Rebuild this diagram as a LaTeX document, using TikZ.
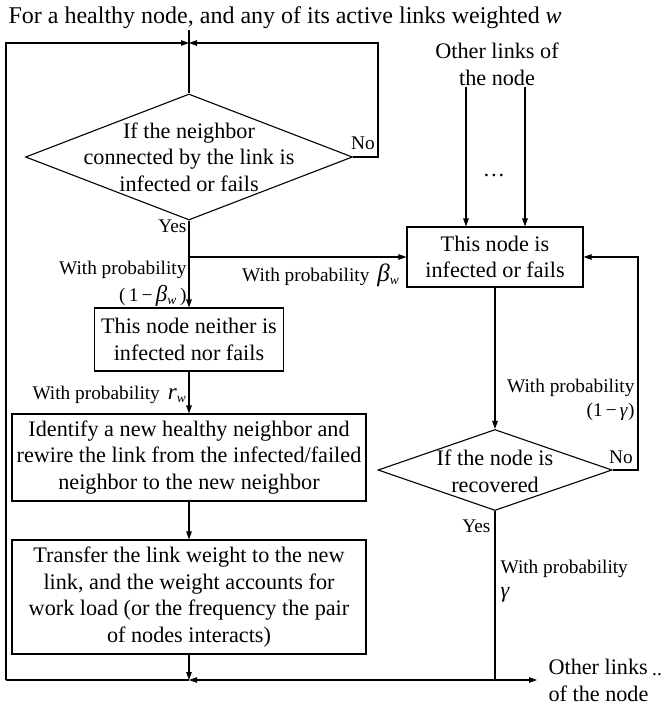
\documentclass[tikz,border=0pt]{standalone}
\usepackage{fontspec}
\setmainfont{Liberation Serif}
\usetikzlibrary{shapes.geometric,arrows.meta}
\begin{document}
\begin{tikzpicture}[x=1pt,y=-1pt,
  line width=1.1pt,
  arr/.style={-{Triangle[length=8pt,width=5.5pt]}},
  box/.style={draw,inner sep=0pt,align=center,font=\fontsize{22.2}{26.6}\selectfont},
  dia/.style={draw,shape=diamond,inner sep=0pt},
  txt/.style={inner sep=0pt,align=center,font=\fontsize{22.2}{26.6}\selectfont},
  lbl/.style={inner sep=0pt,font=\fontsize{19.3}{24}\selectfont},
]
\useasboundingbox (0,0) rectangle (663,707);
% title
\node[inner sep=0pt,anchor=base west,font=\fontsize{24}{28}\selectfont] (title) at (8,23) {For a healthy node, and any of its active links weighted \textit{w}};
% shapes
\node[dia,minimum width=327pt,minimum height=126pt] (d1) at (189,157) {};
\node[txt] (d1t) at (189,157) {If the neighbor\\connected by the link is\\infected or fails};
\node[box,minimum width=189pt,minimum height=63pt] (b2) at (189,339.5) {This node neither is\\infected nor fails};
\node[box,minimum width=354pt,minimum height=87pt] (b3) at (189,457.5) {Identify a new healthy neighbor and\\rewire the link from the infected/failed\\neighbor to the new neighbor};
\node[box,minimum width=354pt,minimum height=114pt] (b4) at (189,597) {Transfer the link weight to the new\\link, and the weight accounts for\\work load (or the frequency the pair\\of nodes interacts)};
\node[box,minimum width=176pt,minimum height=60pt] (r1) at (495,257) {This node is\\infected or fails};
\node[dia,minimum width=234pt,minimum height=81pt] (d2) at (495,470) {};
\node[txt] (d2t) at (495,471) {If the node is\\recovered};
\node[txt] (other) at (497,64) {Other links of\\the node};
\node[txt] (dots) at (494,175) {\dots};
% coordinates
\coordinate (topj) at (189,43);
\coordinate (stub) at (189,30);
\coordinate (tl) at (6,43);
\coordinate (bl) at (6,680);
\coordinate (botj) at (189,680);
\coordinate (rl1) at (378,43);
\coordinate (rl1b) at (378,157);
\coordinate (br) at (189,257);
\coordinate (rl2t) at (638,257);
\coordinate (rl2b) at (638,470);
\coordinate (ybot) at (495,680);
\coordinate (outend) at (537,680);
\coordinate (o1s) at (466,87);
\coordinate (o2s) at (525,87);
% connectors
\draw (stub) -- (d1.north);
\draw[arr] (d1.east) -- (rl1b) -- (rl1) -- (topj);
\draw[arr] (bl) -- (tl) -- (topj);
\draw[arr] (d1.south) -- (b2.north);
\draw[arr] (br) -- (r1.west);
\draw[arr] (b2.south) -- (b3.north);
\draw[arr] (b3.south) -- (b4.north);
\draw[arr] (b4.south) -- (botj);
\draw (botj) -- (bl);
\draw[arr] (ybot) -- (botj);
\draw[arr] (d2.south) -- (ybot) -- (outend);
\draw[arr] (o1s) -- (o1s |- r1.north);
\draw[arr] (o2s) -- (o2s |- r1.north);
\draw[arr] (r1.south) -- (d2.north);
\draw[arr] (d2.east) -- (rl2b) -- (rl2t) -- (r1.east);
% labels
\node[lbl,anchor=east] (yes1) at (187,226) {Yes};
\node[lbl] (no1) at (363,143) {No};
\node[lbl,anchor=east] (p1a) at (187,270) {With probability};
\node[lbl,anchor=east] (p1b) at (187,296) {(\,1\,−\,{\fontsize{23}{24}\selectfont\textit{β}}\textsubscript{\textit{w}}\,)};
\node[lbl,anchor=east] (p2) at (400,275) {With probability \,{\fontsize{25}{24}\selectfont\textit{β}}\textsubscript{\textit{w}}};
\node[lbl,anchor=east] (p3) at (187,395) {With probability \,{\fontsize{23}{24}\selectfont\textit{r}}\textsubscript{\textit{w}}};
\node[lbl,anchor=east,align=right] (p4) at (635,400) {With probability\\(1\,−\,\textit{γ})};
\node[lbl] (no2) at (621,457) {No};
\node[lbl,anchor=east] (yes2) at (491,526) {Yes};
\node[lbl,anchor=west,align=left] (p5) at (500,581) {With probability\\{\fontsize{22}{24}\selectfont\textit{γ}}};
\node[txt,anchor=west,align=left] (other2) at (548,680.5) {Other links\\of the node};
\node[lbl] (dots2) at (657,675) {..};
\end{tikzpicture}
\end{document}
